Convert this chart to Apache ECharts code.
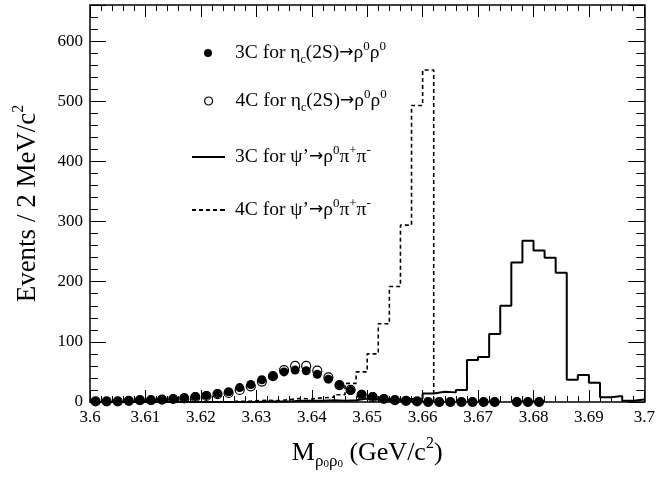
<!DOCTYPE html>
<html>
<head>
<meta charset="utf-8">
<script src="https://cdn.jsdelivr.net/npm/echarts@6/dist/echarts.min.js"></script>
<style>
  html, body { margin: 0; padding: 0; background: #fff; }
  #chart { width: 658px; height: 479px; }
</style>
</head>
<body>
<div id="chart"></div>
<script>
// eta_c(2S) -> rho0 rho0 points (bin centres, 2 MeV bins)
const etaX = [3.601, 3.603, 3.605, 3.607, 3.609, 3.611, 3.613, 3.615, 3.617, 3.619,
  3.621, 3.623, 3.625, 3.627, 3.629, 3.631, 3.633, 3.635, 3.637, 3.639,
  3.641, 3.643, 3.645, 3.647, 3.649, 3.651, 3.653, 3.655, 3.657, 3.659,
  3.661, 3.663, 3.665, 3.667, 3.669, 3.671, 3.673, 3.677, 3.679, 3.681];
const eta3C = [1, 1, 1, 2, 3, 3, 4, 5, 7, 9,
  11, 14, 17, 24, 29, 37, 43, 50, 53, 52,
  46, 38, 28, 19, 13, 9, 6, 3, 2, 1,
  0, 0, 0, 0, 0, 0, 0, 0, 0, 0];
const eta4C = [1, 1, 1, 2, 3, 3, 4, 5, 6, 8,
  10, 13, 15, 20, 26, 34, 43, 53, 60, 60,
  52, 41, 28, 20, 12, 8, 5, 3, 2, 1,
  0, 0, 0, 0, 0, 0, 0, 0, 0, 0];

// psi' -> rho0 pi+ pi- histograms (low bin edges)
const solidEdges = [3.600, 3.602, 3.604, 3.606, 3.608, 3.610, 3.612, 3.614, 3.616, 3.618,
  3.620, 3.622, 3.624, 3.626, 3.628, 3.630, 3.632, 3.634, 3.636, 3.638,
  3.640, 3.642, 3.644, 3.646, 3.648, 3.650, 3.652, 3.654, 3.656, 3.658,
  3.660, 3.662, 3.664, 3.666, 3.668, 3.670, 3.672, 3.674, 3.676, 3.678,
  3.680, 3.682, 3.684, 3.686, 3.688, 3.690, 3.692, 3.694, 3.696, 3.698, 3.700];
const psi3C = [0, 0, 0, 0, 0, 0, 0, 0, 0, 0,
  0, 0, 0, 0, 0, 1, 1, 1, 2, 2,
  2, 3, 2, 3, 6, 4, 3, 4, 5, 6,
  14, 17, 16, 20, 70, 75, 113, 160, 232, 268,
  252, 240, 215, 37, 45, 32, 8, 10, 2, 4];
const dashEdges = [3.626, 3.628, 3.630, 3.632, 3.634, 3.636, 3.638, 3.640, 3.642, 3.644,
  3.646, 3.648, 3.650, 3.652, 3.654, 3.656, 3.658, 3.660, 3.662];
const psi4C = [1, 2, 3, 2, 4, 6, 5, 7, 8, 12,
  31, 50, 80, 130, 192, 294, 493, 552];

const yTickValues = [0, 100, 200, 300, 400, 500, 600];

const F = '"Liberation Serif", "Times New Roman", serif';

const pts = (xs, ys) => xs.map((x, i) => [x, ys[i]]);
// step histogram: each low edge carries its bin value, last edge closes the last bin
const hist = (edges, ys, closeTo) => {
  const d = ys.map((v, i) => [edges[i], v]);
  d.push([edges[ys.length], closeTo === undefined ? ys[ys.length - 1] : closeTo]);
  return d;
};

const legendNames = ['eta3C', 'eta4C', 'psi3C', 'psi4C'];
const legendText = [
  '{h|3C for η}{sub|c}{a|(2S)}{ar|→}{a|ρ}{sup|0}{a|ρ}{sup|0}',
  '{h|4C for η}{sub|c}{a|(2S)}{ar|→}{a|ρ}{sup|0}{a|ρ}{sup|0}',
  '{h|3C for ψ’}{ar|→}{a|ρ}{sup|0}{a|π}{sup|+}{a|π}{sup|-}',
  '{h|4C for ψ’}{ar|→}{a|ρ}{sup|0}{a|π}{sup|+}{a|π}{sup|-}'
];
const legendCenter = [53, 101, 157, 210];
const solidIcon = 'path://M0,0h33v2h-33z';
const dashIcon = 'path://M0,0h4v2h-4z M7,0h4v2h-4z M14,0h4v2h-4z M21,0h4v2h-4z M28,0h5v2h-5z';

const legendRich = (pad) => ({
  h: { fontFamily: F, fontSize: 19.5, color: '#000', lineHeight: 26, padding: [0, 0, 0, pad] },
  a: { fontFamily: F, fontSize: 19.5, color: '#000', lineHeight: 26 },
  ar: { fontFamily: 'DejaVu Sans', fontSize: 17, color: '#000', lineHeight: 26 },
  sub: { fontFamily: F, fontSize: 12, color: '#000', lineHeight: 20, verticalAlign: 'bottom' },
  sup: { fontFamily: F, fontSize: 13, color: '#000', verticalAlign: 'top' }
});

const chart = echarts.init(document.getElementById('chart'));

const tickLine = { color: '#000', width: 1 };
const frameLine = { show: true, onZero: false, lineStyle: { color: '#000', width: 1.5 } };
const noLine = { show: false, onZero: false };

// frame axes: line + labels, no ticks
const frameAxis = (pos, range, interval, extra) => Object.assign({
  type: 'value', min: range[0], max: range[1], interval: interval, position: pos,
  axisLine: frameLine,
  axisTick: { show: false },
  splitLine: { show: false },
  axisLabel: { show: false }
}, extra || {});

// tick-only axes, pulled into the frame by the tick length so the ticks point inward
const tickAxis = (pos, range, interval, len) => ({
  type: 'value', min: range[0], max: range[1], interval: interval, position: pos,
  offset: -len,
  axisLine: noLine,
  axisTick: { show: true, length: len, lineStyle: tickLine },
  splitLine: { show: false },
  axisLabel: { show: false }
});

const xRange = [3.6, 3.7];
const yRange = [0, 660];

const legends = legendNames.map((n, i) => {
  const isMarker = i < 2;
  return {
    data: [n],
    left: isMarker ? 199 : 187,
    top: legendCenter[i] - 18,
    padding: 5,
    itemWidth: isMarker ? 8 : 33,
    itemHeight: isMarker ? 8 : 2,
    selectedMode: false,
    icon: isMarker ? 'circle' : (i === 2 ? solidIcon : dashIcon),
    itemStyle: i === 1
      ? { color: 'rgba(0,0,0,0)', borderColor: '#000', borderWidth: 1.2, opacity: 1 }
      : { color: '#000', borderWidth: 0, opacity: 1 },
    formatter: () => legendText[i],
    textStyle: { fontFamily: F, fontSize: 19.5, color: '#000', rich: legendRich(isMarker ? 18 : 5) }
  };
});

const option = {
  animation: false,
  backgroundColor: '#fff',
  grid: { left: 90, right: 10, top: 5, bottom: 77, containLabel: false },
  legend: legends,
  xAxis: [
    frameAxis('bottom', xRange, 0.01, {
      axisLabel: {
        show: true, margin: 7, color: '#000', fontFamily: F, fontSize: 17,
        showMinLabel: true, showMaxLabel: true,
        formatter: v => String(+v.toFixed(3))
      },
      name: '{a|M}{s|ρ}{ss|0}{s|ρ}{ss|0}{a| (GeV/c}{p|2}{a|)}',
      nameLocation: 'middle',
      nameGap: 34,
      nameTextStyle: {
        rich: {
          a: { fontFamily: F, fontSize: 26, color: '#000', lineHeight: 34 },
          s: { fontFamily: F, fontSize: 17, color: '#000', verticalAlign: 'bottom' },
          ss: { fontFamily: F, fontSize: 11, color: '#000', lineHeight: 24, verticalAlign: 'bottom' },
          p: { fontFamily: F, fontSize: 16, color: '#000', verticalAlign: 'top' }
        }
      }
    }),
    frameAxis('top', xRange, 0.01),
    tickAxis('bottom', xRange, 0.01, 12),
    tickAxis('bottom', xRange, 0.002, 6),
    tickAxis('top', xRange, 0.01, 12),
    tickAxis('top', xRange, 0.002, 6)
  ],
  yAxis: [
    frameAxis('left', yRange, 100, {
      axisLabel: {
        show: true, margin: 7, color: '#000', fontFamily: F, fontSize: 17,
        showMaxLabel: false,
        formatter: v => (yTickValues.indexOf(v) >= 0 ? String(v) : '')
      },
      name: '{a|Events / 2 MeV/c}{p|2}',
      nameLocation: 'middle',
      nameRotate: 90,
      nameGap: 45,
      nameTextStyle: {
        rich: {
          a: { fontFamily: F, fontSize: 27, color: '#000', lineHeight: 34 },
          p: { fontFamily: F, fontSize: 16, color: '#000', verticalAlign: 'top' }
        }
      }
    }),
    frameAxis('right', yRange, 100),
    tickAxis('left', yRange, 100, 16),
    tickAxis('left', yRange, 20, 8),
    tickAxis('right', yRange, 100, 16),
    tickAxis('right', yRange, 20, 8)
  ],
  series: [
    {
      name: 'psi3C', type: 'line', step: 'end', showSymbol: false, symbol: 'none',
      data: hist(solidEdges, psi3C),
      lineStyle: { color: '#000', width: 2 },
      itemStyle: { color: '#000' },
      z: 2
    },
    {
      name: 'psi4C', type: 'line', step: 'end', showSymbol: false, symbol: 'none',
      data: hist(dashEdges, psi4C, 0),
      lineStyle: { color: '#000', width: 1.6, type: [4, 3] },
      itemStyle: { color: '#000' },
      z: 2
    },
    {
      name: 'eta3C', type: 'scatter', symbol: 'circle', symbolSize: 9,
      data: pts(etaX, eta3C),
      itemStyle: { color: '#000', opacity: 1 },
      z: 3
    },
    {
      name: 'eta4C', type: 'scatter', symbol: 'circle', symbolSize: 9,
      data: pts(etaX, eta4C),
      itemStyle: { color: 'rgba(0,0,0,0)', borderColor: '#000', borderWidth: 1.2, opacity: 1 },
      z: 4
    }
  ]
};

chart.setOption(option);
</script>
</body>
</html>
